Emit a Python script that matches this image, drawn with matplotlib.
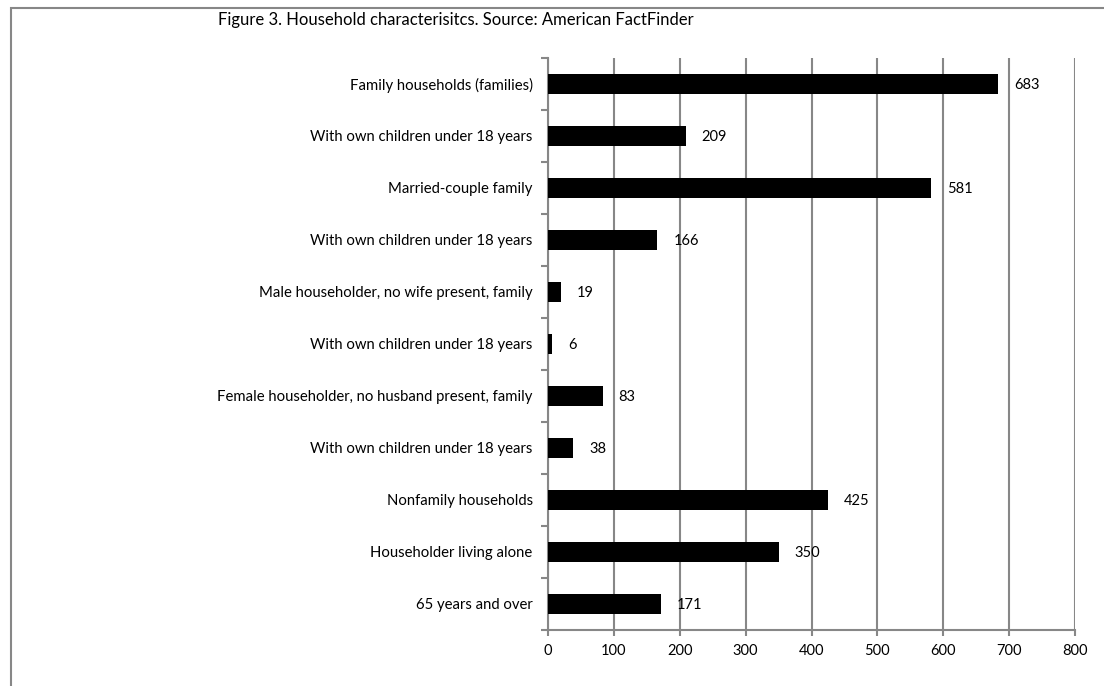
import matplotlib.pyplot as plt
from matplotlib.patches import Rectangle
import numpy as np

# data
categories = [
    "Family households (families)",
    "With own children under 18 years",
    "Married-couple family",
    "With own children under 18 years",
    "Male householder, no wife present, family",
    "With own children under 18 years",
    "Female householder, no husband present, family",
    "With own children under 18 years",
    "Nonfamily households",
    "Householder living alone",
    "65 years and over",
]
values = [683, 209, 581, 166, 19, 6, 83, 38, 425, 350, 171]
x_ticks = [0, 100, 200, 300, 400, 500, 600, 700, 800]
title = "Figure 3. Household characterisitcs. Source: American FactFinder"

plt.rcParams['font.family'] = ['Lato', 'DejaVu Sans']
grey = "#878787"

fig = plt.figure(figsize=(11.04, 6.86), dpi=100)
W, H = 1104, 686
ax = fig.add_axes([548 / W, 1 - 630 / H, (1075 - 548) / W, (630 - 58) / H])

# outer frame (left/top edges visible)
fig.patches.append(Rectangle((11 / W, -0.1), 1.2, 1.1 - 8 / H, transform=fig.transFigure,
                             fill=False, ec=grey, lw=1.5))

y = np.arange(len(categories))
ax.barh(y, values, height=0.385, color="black", zorder=3)

for yi, v in zip(y, values):
    ax.annotate(str(v), xy=(v, yi), xytext=(11.5, -1), textcoords="offset points",
                ha="left", va="center", fontsize=10.5, zorder=4)

ax.set_xlim(0, 800)
ax.set_ylim(len(categories) - 0.5, -0.5)
ax.set_xticks(x_ticks)
ax.set_xticklabels([str(t) for t in x_ticks], fontsize=10.5)
ax.set_yticks(y)
ax.set_yticklabels(categories, fontsize=10.7)
ax.set_yticks(np.arange(-0.5, len(categories), 1), minor=True)

ax.tick_params(axis="y", which="major", length=0, pad=11)
ax.tick_params(axis="y", which="minor", length=5, width=1.5, color=grey, direction="out")
ax.tick_params(axis="x", length=4, width=1.5, color=grey, direction="out", pad=6)

ax.xaxis.grid(True, color=grey, lw=1.5, zorder=0)
ax.set_axisbelow(True)
for s in ["top", "right"]:
    ax.spines[s].set_visible(False)
for s in ["left", "bottom"]:
    ax.spines[s].set_color(grey)
    ax.spines[s].set_linewidth(1.5)

fig.text(218 / W, 1 - 20 / H, title, ha="left", va="center", fontsize=12)

fig.savefig("out.png", dpi=100)
